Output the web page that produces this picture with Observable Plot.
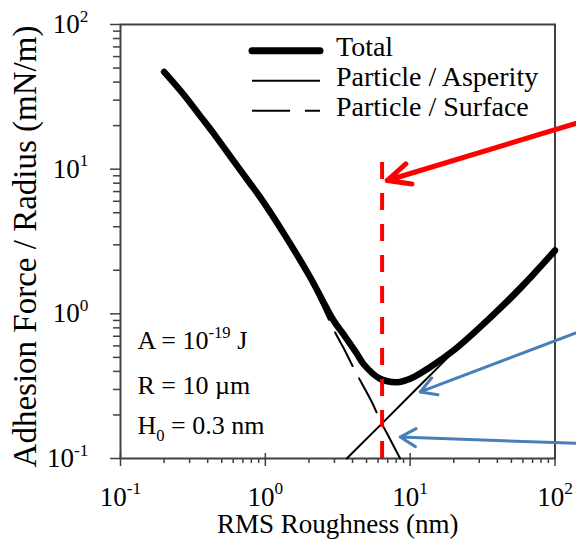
<!DOCTYPE html>
<html><head><meta charset="utf-8">
<script src="https://cdn.jsdelivr.net/npm/d3@7"></script>
<script src="https://cdn.jsdelivr.net/npm/@observablehq/plot@0.6"></script>
<style>
html,body{margin:0;padding:0;background:#fff;}
#chart{width:576px;height:545px;}
</style></head><body><div id="chart"></div>
<script>
// ---- data ----
const roughness   = [0.2, 0.27, 0.36, 0.46, 0.6, 0.79, 0.92, 1.34, 2.04, 2.96, 3.47, 4.29, 4.76, 6.2, 8.1, 10, 13.7, 19.9, 30, 50, 70, 100];
const totalForce  = [47, 33.2, 22.9, 16.6, 11.5, 7.9, 6.4, 3.6, 1.79, 0.9, 0.72, 0.53, 0.45, 0.356, 0.337, 0.356, 0.428, 0.558, 0.8, 1.3, 1.85, 2.74];
const asperityX     = [3.65, 6.4, 10, 20, 50, 100];
const asperityForce = [0.1, 0.175, 0.274, 0.548, 1.37, 2.74];
const surfaceX     = [0.2, 0.27, 0.36, 0.46, 0.6, 0.79, 0.92, 1.34, 2.04, 2.96, 3.47, 4.18, 4.64, 5.5, 6.21, 6.97, 8.53];
const surfaceForce = [46.5, 32.8, 22.6, 16.3, 11.3, 7.75, 6.3, 3.5, 1.7, 0.78, 0.58, 0.40, 0.33, 0.24, 0.183, 0.147, 0.1];
const criticalX = [6.4];
const criticalSpan = [0.1, 12.5];
const arrowStartX = [150, 150, 150];
const arrowStartY = [21.2, 0.76, 0.127];
const arrowEndX   = [6.94, 11.73, 8.53];
const arrowEndY   = [8.35, 0.2885, 0.1406];
const xMajor = [0.1, 1, 10, 100];
const yMajor = [0.1, 1, 10, 100];
const minorSteps = [2, 3, 4, 5, 6, 7, 8, 9];
const paramLabels = ["A = 10^{-19} J", "R = 10 \u00b5m", "H_{0} = 0.3 nm"];
const paramX = 0.131;
const paramY = [0.655, 0.32, 0.169];
const legendLabels = ["Total", "Particle / Asperity", "Particle / Surface"];
const xTitle = "RMS Roughness (nm)";
const yTitle = "Adhesion Force / Radius (mN/m)";

// ---- build ----
const serif = '"Liberation Serif", "Times New Roman", Times, serif';
const axisColor = "#404040";
const minorOf = major => major.slice(0, -1).flatMap(d => minorSteps.map(k => d * k));
const xMinor = minorOf(xMajor), yMinor = minorOf(yMajor);
const fmt = d => `10^{${Math.round(Math.log10(d))}}`;
const blank = () => "";
const total = roughness.map((x, i) => ({x, y: totalForce[i]}));
const asperity = asperityX.map((x, i) => ({x, y: asperityForce[i]}));
const surface = surfaceX.map((x, i) => ({x, y: surfaceForce[i]}));

const svg = Plot.plot({
  width: 576, height: 545,
  marginLeft: 120, marginRight: 21.5, marginTop: 24, marginBottom: 87,
  x: {type: "log", domain: [0.1, 100]},
  y: {type: "log", domain: [0.1, 100]},
  style: {fontFamily: serif, fontSize: "27px", background: "#fff", color: "#000", overflow: "visible"},
  marks: [
    Plot.axisX({ticks: xMinor, tickSize: 5, tickFormat: blank, label: null, stroke: axisColor, strokeWidth: 1.5}),
    Plot.axisX({ticks: xMajor, tickSize: -5, tickFormat: blank, label: null, stroke: axisColor, strokeWidth: 1.5}),
    Plot.axisX({ticks: xMajor, tickSize: 8, tickPadding: 20, tickFormat: fmt, label: null, fontSize: 27, stroke: axisColor, strokeWidth: 1.5}),
    Plot.axisY({ticks: yMinor, tickSize: 7, tickFormat: blank, label: null, stroke: axisColor, strokeWidth: 1.5}),
    Plot.axisY({ticks: yMajor, tickSize: 10, tickPadding: 22, tickFormat: fmt, label: null, fontSize: 27, stroke: axisColor, strokeWidth: 1.5}),
    Plot.frame({stroke: axisColor, strokeWidth: 2}),
    Plot.line(surface, {x: "x", y: "y", stroke: "#000", strokeWidth: 2, strokeDasharray: "38,14", curve: "catmull-rom"}),
    Plot.line(asperity, {x: "x", y: "y", stroke: "#000", strokeWidth: 2}),
    Plot.line(total, {x: "x", y: "y", stroke: "#000", strokeWidth: 6.5, strokeLinecap: "round", strokeLinejoin: "round", curve: "catmull-rom"}),
    Plot.ruleX(criticalX, {x: d => d, y1: criticalSpan[0], y2: criticalSpan[1], stroke: "#ff0000", strokeWidth: 4, strokeDasharray: "17,14"}),
    Plot.arrow([0], {x1: i => arrowStartX[i], y1: i => arrowStartY[i], x2: i => arrowEndX[i], y2: i => arrowEndY[i],
      stroke: "#ff0000", strokeWidth: 5, headLength: 7.5, headAngle: 50}),
    Plot.arrow([1, 2], {x1: i => arrowStartX[i], y1: i => arrowStartY[i], x2: i => arrowEndX[i], y2: i => arrowEndY[i],
      stroke: "#4a7ebb", strokeWidth: 3, headLength: 9, headAngle: 60}),
    Plot.text(paramLabels, {x: paramX, y: (d, i) => paramY[i], text: d => d, textAnchor: "start", fontSize: 26}),
    Plot.text([xTitle], {frameAnchor: "bottom", dy: 66, text: d => d, textAnchor: "middle", lineAnchor: "middle", fontSize: 27}),
    Plot.text([yTitle], {frameAnchor: "left", dx: -95, dy: 5, rotate: -90, text: d => d, textAnchor: "middle", lineAnchor: "middle", fontSize: 33})
  ]
});
document.getElementById("chart").appendChild(svg);

// superscripts / subscripts as real tspans
function rich(el) {
  const s = el.textContent;
  if (!/[\^_]\{/.test(s)) return;
  const fs = parseFloat(getComputedStyle(el).fontSize) || 27;
  while (el.firstChild) el.removeChild(el.firstChild);
  const re = /([\^_])\{([^}]*)\}/g;
  let last = 0, m, cur = 0;
  const add = (txt, kind) => {
    if (!txt) return;
    const t = document.createElementNS("http://www.w3.org/2000/svg", "tspan");
    const target = kind === "^" ? -0.42 * fs : kind === "_" ? 0.28 * fs : 0;
    if (target !== cur) t.setAttribute("dy", (target - cur).toFixed(2));
    cur = target;
    if (kind) t.setAttribute("font-size", (0.64 * fs).toFixed(2));
    t.textContent = txt;
    el.appendChild(t);
  };
  while ((m = re.exec(s))) { add(s.slice(last, m.index), null); add(m[2], m[1]); last = re.lastIndex; }
  add(s.slice(last), null);
}
d3.select(svg).selectAll("text").each(function() { rich(this); });

// legend (inside the frame, top)
const legendStyles = [
  {w: 7, dash: null, cap: "round"},
  {w: 2, dash: null, cap: "butt"},
  {w: 2, dash: "38,15", cap: "butt"}
];
const lg = d3.select(svg).append("g").attr("font-family", serif).attr("font-size", 28).attr("text-anchor", "start");
legendLabels.forEach((label, i) => {
  const y = 50.7 + i * 30;
  const st = legendStyles[i];
  lg.append("line").attr("x1", 252).attr("x2", 320).attr("y1", y).attr("y2", y)
    .attr("stroke", "#000").attr("stroke-width", st.w).attr("stroke-linecap", st.cap)
    .attr("stroke-dasharray", st.dash);
  lg.append("text").attr("x", 336).attr("y", y + 5.5).attr("text-anchor", "start").text(label);
});
</script></body></html>
